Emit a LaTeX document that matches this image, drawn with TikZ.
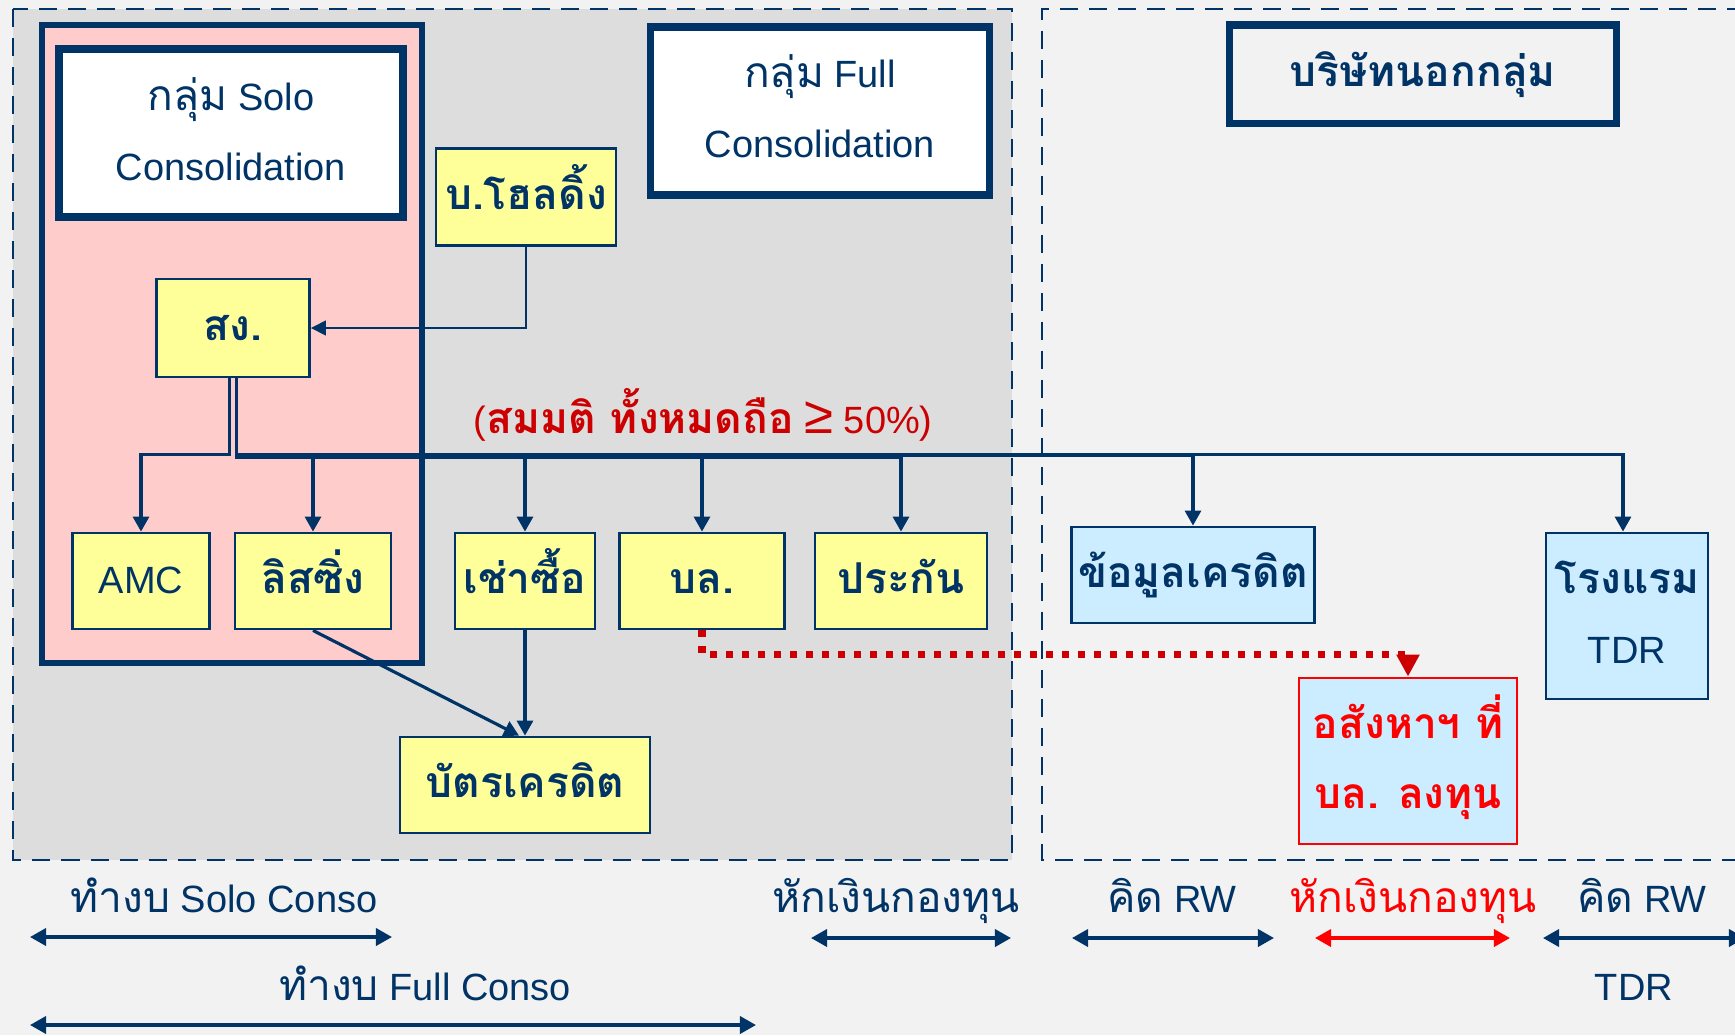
\documentclass[tikz,border=0pt]{standalone}
\usepackage{fontspec}
\setmainfont{Liberation Sans}
\newfontfamily\thaifont[Script=Thai, Scale=1.12]{Loma}
\usetikzlibrary{arrows.meta}

\definecolor{navy}{HTML}{003366}
\definecolor{fondo}{HTML}{F2F2F2}
\definecolor{gris}{HTML}{DDDDDD}
\definecolor{rosa}{HTML}{FFCCCC}
\definecolor{amarillo}{HTML}{FFFF99}
\definecolor{celeste}{HTML}{CCECFF}
\definecolor{rojo}{HTML}{CC0000}
\definecolor{rojovivo}{HTML}{FF0000}

\newcommand{\tbold}[1]{{\thaifont\bfseries #1}}
\newcommand{\tplain}[1]{{\thaifont #1}}

\begin{document}
\begin{tikzpicture}[x=0.01cm, y=-0.01cm,
    every node/.style={text=navy, font=\fontsize{10.8}{19.9}\selectfont},
    caja/.style={draw=navy, line width=0.8pt, fill=amarillo, inner sep=0pt, align=center, minimum height=0.96cm, text height=0.25cm, text depth=0pt},
    cajaazul/.style={caja, fill=celeste},
    doble/.style={text height=0.94cm, text depth=0pt},
    titulo/.style={draw=navy, line width=2.2pt, fill=white, inner sep=0pt, align=center},
    enlace/.style={draw=navy, line width=0.9pt, -{Triangle[length=0.15cm, width=0.16cm]}},
    fino/.style={draw=navy, line width=0.45pt, -{Triangle[length=0.15cm, width=0.15cm]}},
    rango/.style={draw=navy, line width=1pt, {Triangle[length=0.16cm, width=0.17cm]}-{Triangle[length=0.16cm, width=0.17cm]}},
    punteado/.style={draw=rojo, line width=2pt, dash pattern=on 0.07cm off 0.09cm, -{Triangle[length=0.22cm, width=0.22cm]}},
    etiqueta/.style={anchor=base, inner sep=0pt},
    zona/.style={navy, line width=0.8pt, dash pattern=on 0.18cm off 0.11cm}
  ]
    % Fondo
    \path[fill=fondo, use as bounding box] (0,0) rectangle (1735,1035);
    \clip (0,0) rectangle (1735,1035);

    % Zonas
    \draw[zona, fill=gris] (13,9) rectangle (1012,860);
    \draw[zona] (1745,9) -- (1042,9) -- (1042,860) -- (1745,860);
    \draw[navy, line width=1.7pt, fill=rosa] (42,25) rectangle (422,663);

    % Titulos
    \node[titulo, minimum width=3.44cm, minimum height=1.68cm, text height=0.94cm, text depth=0pt] (solo) at (231,133) {\tplain{กลุ่ม} Solo\\Consolidation};
    \node[titulo, minimum width=3.39cm, minimum height=1.68cm, text height=0.92cm, text depth=0pt] (full) at (820,111) {\tplain{กลุ่ม} Full\\Consolidation};
    \node[titulo, fill=none, line width=2pt, minimum width=3.87cm, minimum height=0.98cm, text height=0.25cm, text depth=0pt] (fuera) at (1423,74) {\tbold{บริษัทนอกกลุ่ม}};

    % Empresas
    \node[caja, minimum width=1.80cm, minimum height=0.97cm] (holding) at (526,197) {\tbold{บ.โฮลดิ้ง}};
    \node[caja, minimum width=1.53cm, minimum height=0.98cm] (song) at (233,328) {\tbold{สง.}};
    \node[caja, minimum width=1.37cm] (amc) at (141,581) {AMC};
    \node[caja, minimum width=1.56cm] (leasing) at (313,581) {\tbold{ลิสซิ่ง}};
    \node[caja, minimum width=1.40cm] (hp) at (525,581) {\tbold{เช่าซื้อ}};
    \node[caja, minimum width=1.65cm] (bl) at (702,581) {\tbold{บล.}};
    \node[caja, minimum width=1.72cm] (prakan) at (901,581) {\tbold{ประกัน}};
    \node[caja, minimum width=2.50cm] (card) at (525,785) {\tbold{บัตรเครดิต}};
    \node[cajaazul, minimum width=2.43cm] (credito) at (1193,575) {\tbold{ข้อมูลเครดิต}};
    \node[cajaazul, doble, minimum width=1.62cm, minimum height=1.66cm] (hotel) at (1627,616) {\tbold{โรงแรม}\\TDR};
    \node[cajaazul, doble, draw=rojovivo, text=rojovivo, minimum width=2.18cm, minimum height=1.66cm] (asset) at (1408,761) {\tbold{อสังหาฯ ที่}\\\tbold{บล. ลงทุน}};

    % Supuesto
    \node[etiqueta, text=rojo] (supuesto) at (703,433) {(\tbold{สมมติ ทั้งหมดถือ} {\fontsize{15}{15}\selectfont ≥} 50\%)};

    % Conexiones
    \draw[fino] (holding.south) |- (song.east);
    \draw[enlace] ([xshift=-0.035cm]song.south) -- ++(0,76) -| (amc.north);
    \draw[enlace] ([xshift=0.035cm]song.south) -- ++(0,79) -| (leasing.north);
    \draw[enlace] ([xshift=0.035cm]song.south) -- ++(0,79) -| (hp.north);
    \draw[enlace] ([xshift=0.035cm]song.south) -- ++(0,79) -| (bl.north);
    \draw[enlace] ([xshift=0.035cm]song.south) -- ++(0,79) -| (prakan.north);
    \draw[enlace] ([xshift=0.035cm]song.south) -- ++(0,77) -| (credito.north);
    \draw[enlace] ([xshift=0.035cm]song.south) -- ++(0,76) -| ([xshift=-0.04cm]hotel.north);
    \draw[enlace] (hp.south) -- (card.north);
    \draw[enlace] (leasing.south) -- ([xshift=-0.06cm]card.north);
    \draw[punteado] (bl.south) -- ++(0,24) -| (asset.north);

    % Etiquetas inferiores
    \node[etiqueta] (lsolo) at (224,912) {\tplain{ทำงบ} Solo Conso};
    \node[etiqueta] (lfull) at (425,1000) {\tplain{ทำงบ} Full Conso};
    \node[etiqueta] (lcap1) at (896,912) {\tplain{หักเงินกองทุน}};
    \node[etiqueta] (lrw1) at (1172,912) {\tplain{คิด} RW};
    \node[etiqueta, text=rojovivo] (lcap2) at (1413,912) {\tplain{หักเงินกองทุน}};
    \node[etiqueta] (lrw2) at (1642,912) {\tplain{คิด} RW};
    \node[etiqueta] (ltdr) at (1634,1000) {TDR};

    % Rangos
    \coordinate (s1) at (30,937);
    \coordinate (s2) at (392,937);
    \coordinate (f1) at (30,1025);
    \coordinate (f2) at (756,1025);
    \coordinate (c1) at (811,938);
    \coordinate (c2) at (1011,938);
    \coordinate (r1) at (1072,938);
    \coordinate (r2) at (1274,938);
    \coordinate (k1) at (1315,938);
    \coordinate (k2) at (1510,938);
    \coordinate (t1) at (1543,938);
    \coordinate (t2) at (1745,938);
    \draw[rango] (s1) -- (s2);
    \draw[rango] (f1) -- (f2);
    \draw[rango] (c1) -- (c2);
    \draw[rango] (r1) -- (r2);
    \draw[rango, draw=rojovivo] (k1) -- (k2);
    \draw[rango] (t1) -- (t2);
\end{tikzpicture}
\end{document}
